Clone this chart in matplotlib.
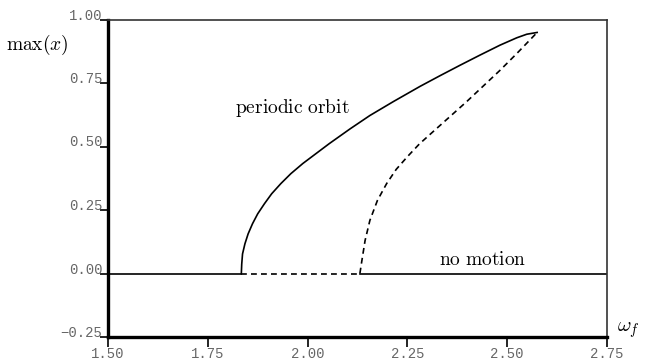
import numpy as np
import matplotlib
matplotlib.use("Agg")
from matplotlib import pyplot as plt

matplotlib.rcParams['mathtext.fontset'] = 'cm'

# stable periodic orbit branch (solid)
orbit_w = [1.834, 1.835, 1.837, 1.843, 1.851, 1.862, 1.875, 1.892, 1.910, 1.933,
           1.958, 1.988, 2.021, 2.054, 2.106, 2.156, 2.215, 2.282, 2.332, 2.382,
           2.432, 2.482, 2.524, 2.549, 2.575]
orbit_x = [0.0, 0.037, 0.077, 0.117, 0.156, 0.196, 0.235, 0.275, 0.314, 0.354,
           0.393, 0.433, 0.472, 0.511, 0.569, 0.622, 0.677, 0.737, 0.779, 0.820,
           0.860, 0.899, 0.928, 0.942, 0.949]
# unstable branch (dashed)
unst_w = [2.131, 2.136, 2.144, 2.156, 2.175, 2.198, 2.222, 2.250, 2.280, 2.319,
          2.361, 2.398, 2.440, 2.482, 2.524, 2.575]
unst_x = [0.0, 0.051, 0.130, 0.209, 0.288, 0.354, 0.410, 0.460, 0.510, 0.565,
          0.624, 0.676, 0.738, 0.800, 0.866, 0.949]
# rest state: stable / unstable pieces
rest_w1 = [1.50, 1.834]
rest_w2 = [1.834, 2.131]
rest_w3 = [2.131, 2.75]

xticks = [1.50, 1.75, 2.00, 2.25, 2.50, 2.75]
yticks = [-0.25, 0.00, 0.25, 0.50, 0.75, 1.00]

fig = plt.figure(figsize=(6.5, 3.62), dpi=100)
ax = fig.add_axes([108/650, 1-337/362, (607-108)/650, (337-19.5)/362])

lw = 1.2
ax.plot(orbit_w, orbit_x, color='black', lw=lw)
ax.plot(unst_w, unst_x, color='black', lw=lw, dashes=(3.5, 2.5))
ax.plot(rest_w1, [0, 0], color='black', lw=lw)
ax.plot(rest_w2, [0, 0], color='black', lw=lw, dashes=(3.5, 2.5))
ax.plot(rest_w3, [0, 0], color='black', lw=lw)

ax.set_xlim(1.5, 2.75)
ax.set_ylim(-0.25, 1.0)

ax.set_xticks(xticks)
ax.set_xticklabels(['%.2f' % v for v in xticks])
ax.set_yticks(yticks)
ax.set_yticklabels(['%.2f' % v if v >= 0 else '\u22120.25' for v in yticks])

for lab in ax.get_xticklabels() + ax.get_yticklabels():
    lab.set_family(['Liberation Mono', 'DejaVu Sans Mono'])
    lab.set_fontsize(10)
    lab.set_color('#666666')
for lab in ax.get_yticklabels():
    lab.set_verticalalignment('baseline')

ax.tick_params(axis='y', direction='out', length=6, width=1.2, pad=-2, colors='black',
               labelcolor='#666666')
ax.tick_params(axis='x', direction='out', length=7, width=1.2, pad=0, colors='black',
               labelcolor='#666666')

ax.spines['left'].set_linewidth(2.4)
ax.spines['bottom'].set_linewidth(2.4)
ax.spines['top'].set_linewidth(1.2)
ax.spines['right'].set_linewidth(1.2)
ax.spines['top'].set_color('#333333')
ax.spines['right'].set_color('#333333')

ax.text(1.961, 0.65, r'$\mathrm{periodic\ orbit}$', ha='center', va='center', fontsize=14)
ax.text(2.439, 0.055, r'$\mathrm{no\ motion}$', ha='center', va='center', fontsize=14)

fig.text(37/650, 1-45/362, r'$\max(x)$', ha='center', va='center', fontsize=14)
fig.text(628/650, 1-330/362, r'$\omega_f$', ha='center', va='center', fontsize=15)

fig.savefig('out.png', dpi=100)
